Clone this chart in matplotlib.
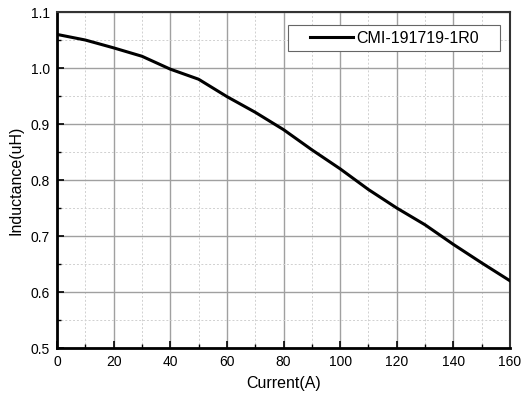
import matplotlib
matplotlib.use("Agg")
from matplotlib import pyplot as plt
from matplotlib.patches import Rectangle
from matplotlib.ticker import MultipleLocator

plt.rcParams["font.family"] = ["Liberation Sans", "DejaVu Sans"]

current = [0, 10, 20, 30, 40, 50, 60, 70, 80, 90, 100, 110, 120, 130, 140, 150, 160]
inductance = [1.06, 1.05, 1.036, 1.021, 0.998, 0.98, 0.949, 0.921, 0.89, 0.854, 0.82, 0.783, 0.75, 0.72, 0.685, 0.652, 0.62]
label = "CMI-191719-1R0"

fig = plt.figure(figsize=(5.21, 3.98), dpi=100)
ax = fig.add_axes([0.1094, 0.1256, 0.8695, 0.8442])

ax.plot(current, inductance, color="black", lw=2.2, label=label, zorder=3)

ax.set_xlim(0, 160)
ax.set_ylim(0.5, 1.1)
ax.xaxis.set_major_locator(MultipleLocator(20))
ax.xaxis.set_minor_locator(MultipleLocator(10))
ax.yaxis.set_major_locator(MultipleLocator(0.1))
ax.yaxis.set_minor_locator(MultipleLocator(0.05))
ax.yaxis.set_major_formatter(plt.FormatStrFormatter("%.1f"))

ax.grid(which="major", color="#a0a0a0", lw=1.0, ls="-")
ax.grid(which="minor", color="#d0d0d0", lw=0.7, ls=(0, (2, 2)))
ax.set_axisbelow(True)

ax.tick_params(which="both", direction="in", labelsize=10, top=False, right=False)
ax.tick_params(which="major", length=5, width=1.2, pad=5)
ax.tick_params(which="minor", length=3, width=1.0)

for s in ax.spines.values():
    s.set_linewidth(1.5)
    s.set_color("#333333")
ax.spines["left"].set_linewidth(2)
ax.spines["bottom"].set_linewidth(2)
ax.spines["left"].set_color("black")
ax.spines["bottom"].set_color("black")

ax.set_xlabel("Current(A)", fontsize=11.5, labelpad=5)
ax.set_ylabel("Inductance(uH)", fontsize=11.5, labelpad=5)

# legend box drawn by hand so it can be wider than the legend content
box = Rectangle((0.510, 0.884), 0.468, 0.077, transform=ax.transAxes, facecolor="white",
                edgecolor="#666666", lw=0.8, zorder=4)
ax.add_patch(box)
leg = ax.legend(loc="center", bbox_to_anchor=(0.744, 0.9225), fontsize=11.5, frameon=False,
                borderpad=0, handlelength=2.75, handletextpad=0.15, borderaxespad=0)
leg.set_zorder(5)

fig.savefig("out.png", dpi=100)
